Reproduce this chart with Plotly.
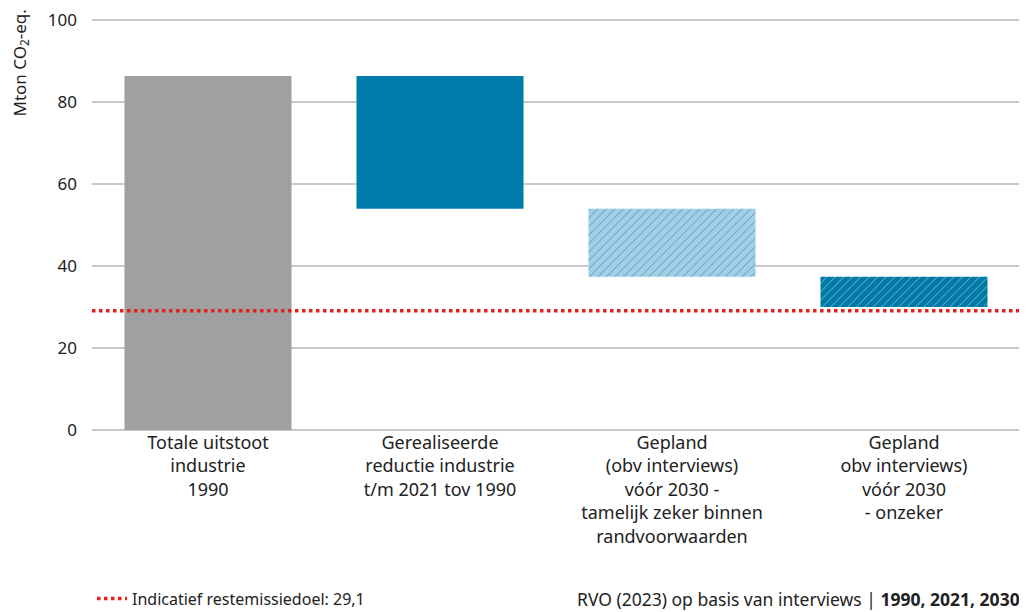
import plotly.graph_objects as go

# waterfall data (Mton CO2-eq.)
categories = [
    "Totale uitstoot<br>industrie<br>1990",
    "Gerealiseerde<br>reductie industrie<br>t/m 2021 tov 1990",
    "Gepland<br>(obv interviews)<br>vóór 2030 -<br>tamelijk zeker binnen<br>randvoorwaarden",
    "Gepland<br>obv interviews)<br>vóór 2030<br>- onzeker",
]
total_1990 = 86.4
reductions = [32.4, 16.6, 7.4]
target = 29.1
target_label = "Indicatief restemissiedoel: 29,1"

# bar heights and bases for the waterfall
heights = [total_1990] + reductions
bases = [0]
level = total_1990
for r in reductions:
    level -= r
    bases.append(level)

colors = ["#a0a0a0", "#007bab", "#9dd1ea", "#0079a8"]
patterns = ["", "", "/", "/"]

fig = go.Figure()
fig.add_trace(go.Bar(
    x=categories,
    y=heights,
    base=bases,
    width=0.72,
    marker=dict(
        color=colors,
        line=dict(width=0),
        pattern=dict(shape=patterns, fgcolor="white", bgcolor=colors,
                     size=6, solidity=0.15, fillmode="overlay"),
    ),
    showlegend=False,
    hoverinfo="skip",
))

# target line across the full width
fig.add_shape(type="line", xref="paper", x0=0, x1=1, yref="y", y0=target, y1=target,
              line=dict(color="#e3211c", width=3.5, dash="dot"))

# legend entry for the target line
fig.add_trace(go.Scatter(
    x=[None], y=[None], mode="lines", name=target_label,
    line=dict(color="#e3211c", width=3.5, dash="dot"),
))

fig.add_annotation(text="Mton CO<sub>2</sub>-eq.", textangle=-90, xref="paper", yref="paper",
                   x=-0.077, y=1.028, xanchor="center", yanchor="top", showarrow=False,
                   font=dict(size=17, color="#222222"))

fig.add_annotation(text="RVO (2023) op basis van interviews | <b>1990, 2021, 2030</b>",
                   xref="paper", yref="paper", x=1.002, y=-0.41, xanchor="right", yanchor="middle",
                   showarrow=False, font=dict(size=17.5, color="#222222"))

# page body has an 8px margin, so the figure is drawn 8px smaller and margins shifted
fig.update_layout(
    width=1019, height=604,
    margin=dict(l=84, r=7, t=11, b=182, autoexpand=False),
    plot_bgcolor="white", paper_bgcolor="white",
    font=dict(family="Noto Sans", size=16, color="#222222"),
    bargap=0.28,
    legend=dict(orientation="h", x=0.0, y=-0.41, xanchor="left", yanchor="middle",
                font=dict(size=16), itemwidth=30, bgcolor="rgba(0,0,0,0)"),
    xaxis=dict(showgrid=False, showline=False, ticks="", tickangle=0, tickfont=dict(size=18)),
    yaxis=dict(range=[0, 100.3], tickvals=[0, 20, 40, 60, 80, 100], showgrid=True,
               gridcolor="#c8c8c8", gridwidth=2,
               zeroline=True, zerolinecolor="#c8c8c8", zerolinewidth=2, ticks="",
               ticklabelstandoff=14, tickfont=dict(size=17)),
)

fig.write_html("out.html")
